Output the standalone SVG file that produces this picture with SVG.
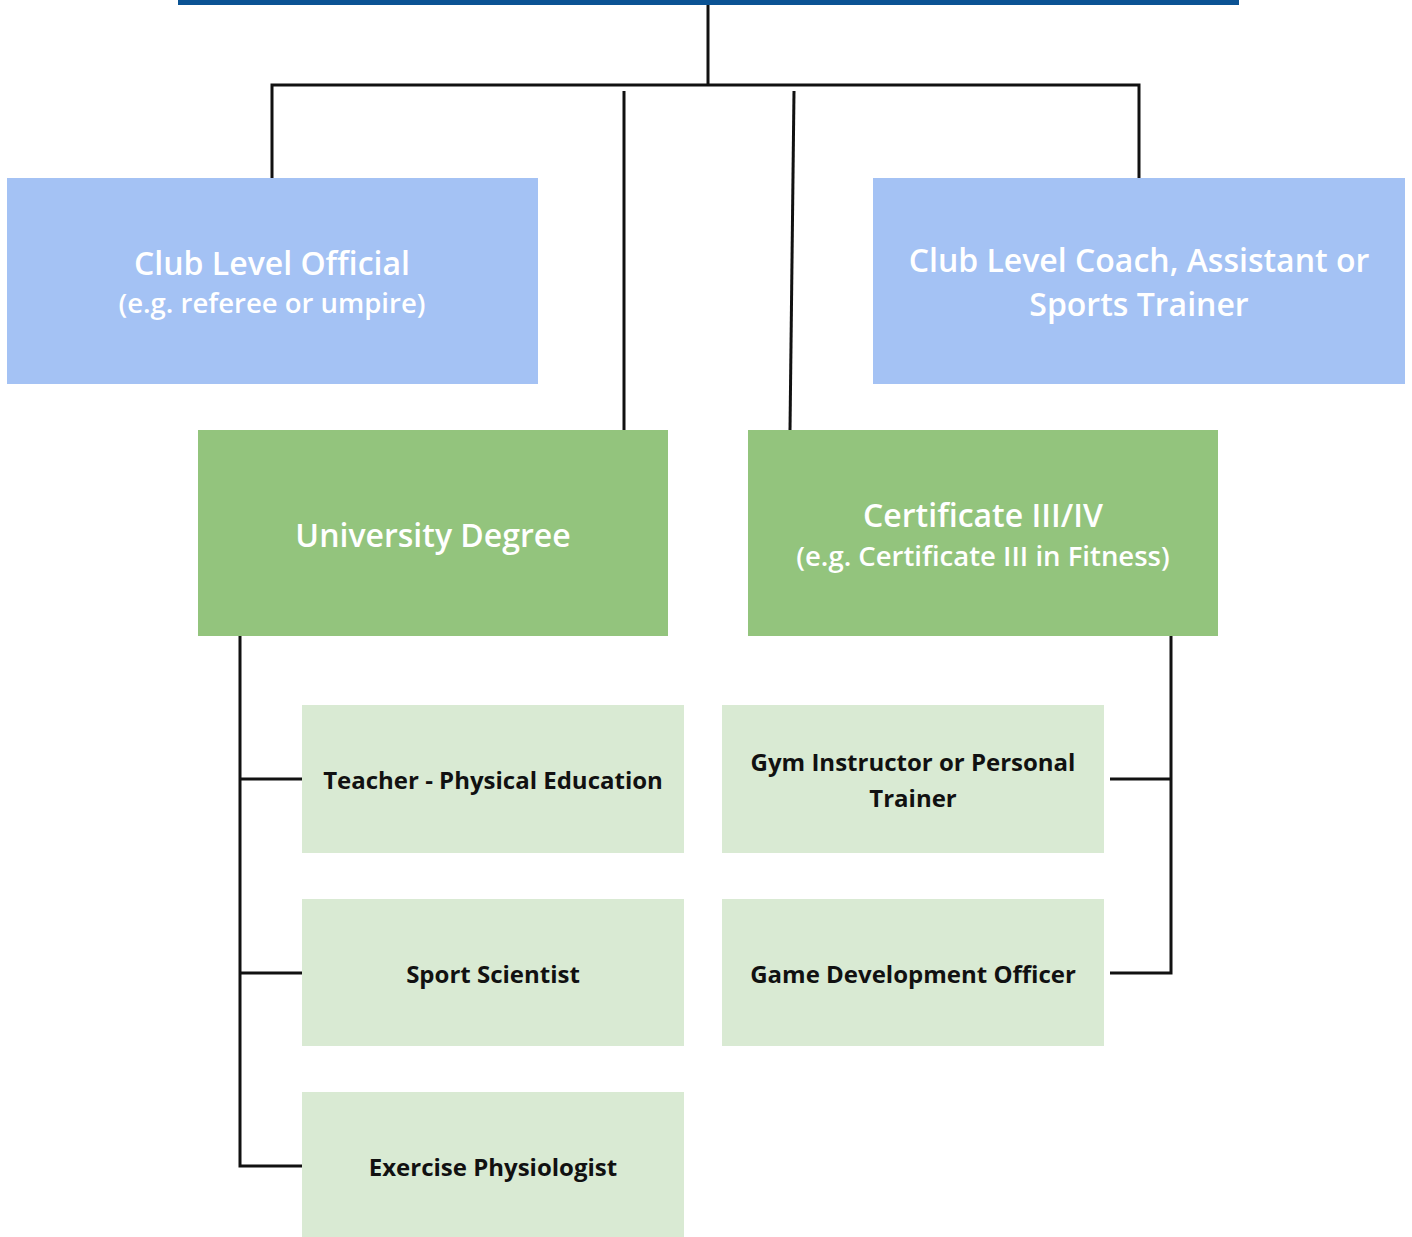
<svg xmlns="http://www.w3.org/2000/svg" width="1412" height="1237" viewBox="0 0 1412 1237">
<style>
.blue{fill:#a4c2f4}
.green{fill:#93c47d}
.light{fill:#d9ead3}
.wt{font-family:"Open Sans","Liberation Sans",sans-serif;fill:#ffffff;text-anchor:middle;font-weight:600}
.bt{font-family:"Open Sans","Liberation Sans",sans-serif;fill:#111111;text-anchor:middle;font-weight:bold;font-size:24px}
.big{font-size:32px}
.sub{font-size:27.5px}
.ln{stroke:#111111;stroke-width:3;fill:none}
</style>
<rect x="0" y="0" width="1412" height="1237" fill="#ffffff"/>
<rect id="topbar" x="178" y="0" width="1061" height="5" fill="#0b5394"/>
<g id="connectors">
<polyline class="ln" points="708,5 708,85"/>
<polyline class="ln" points="272,178 272,85 1139,85 1139,178"/>
<line class="ln" x1="624" y1="91" x2="624" y2="431"/>
<line class="ln" x1="794" y1="91" x2="790" y2="431"/>
<polyline class="ln" points="240,636 240,1166 302,1166"/>
<line class="ln" x1="240" y1="779" x2="302" y2="779"/>
<line class="ln" x1="240" y1="973" x2="302" y2="973"/>
<polyline class="ln" points="1171,636 1171,973 1110,973"/>
<line class="ln" x1="1110" y1="779" x2="1171" y2="779"/>
</g>
<g id="club-official">
<rect class="blue" x="7" y="178" width="531" height="206"/>
<text class="wt big" x="272" y="275">Club Level Official</text>
<text class="wt sub" x="272" y="313">(e.g. referee or umpire)</text>
</g>
<g id="club-coach">
<rect class="blue" x="873" y="178" width="532" height="206"/>
<text class="wt big" x="1139" y="272">Club Level Coach, Assistant or</text>
<text class="wt big" x="1139" y="316">Sports Trainer</text>
</g>
<g id="university">
<rect class="green" x="198" y="430" width="470" height="206"/>
<text class="wt big" x="433" y="547">University Degree</text>
</g>
<g id="certificate">
<rect class="green" x="748" y="430" width="470" height="206"/>
<text class="wt big" x="983" y="527">Certificate III/IV</text>
<text class="wt sub" x="983" y="566">(e.g. Certificate III in Fitness)</text>
</g>
<g id="teacher">
<rect class="light" x="302" y="705" width="382" height="148"/>
<text class="bt" x="493" y="789">Teacher - Physical Education</text>
</g>
<g id="sport-scientist">
<rect class="light" x="302" y="899" width="382" height="147"/>
<text class="bt" x="493" y="983">Sport Scientist</text>
</g>
<g id="exercise-physiologist">
<rect class="light" x="302" y="1092" width="382" height="150"/>
<text class="bt" x="493" y="1176">Exercise Physiologist</text>
</g>
<g id="gym-instructor">
<rect class="light" x="722" y="705" width="382" height="148"/>
<text class="bt" x="913" y="771">Gym Instructor or Personal</text>
<text class="bt" x="913" y="807">Trainer</text>
</g>
<g id="game-development">
<rect class="light" x="722" y="899" width="382" height="147"/>
<text class="bt" x="913" y="983">Game Development Officer</text>
</g>
</svg>
